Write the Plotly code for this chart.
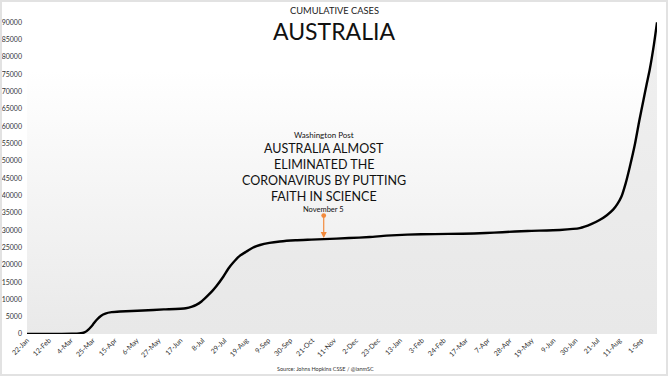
import base64
import plotly.graph_objects as go

# ---- data ----
dates = [
    "2020-01-22", "2020-02-15", "2020-03-05", "2020-03-12", "2020-03-17", "2020-03-21",
    "2020-03-25", "2020-03-29", "2020-04-02", "2020-04-06", "2020-04-12", "2020-04-20",
    "2020-05-12", "2020-06-01", "2020-06-22", "2020-06-28", "2020-07-02", "2020-07-07",
    "2020-07-12", "2020-07-17", "2020-07-21", "2020-07-28", "2020-08-02", "2020-08-06",
    "2020-08-12", "2020-08-19", "2020-08-25", "2020-09-01", "2020-09-10", "2020-09-20",
    "2020-10-05", "2020-10-20", "2020-11-01", "2020-11-25", "2020-12-15", "2020-12-31",
    "2021-01-20", "2021-02-15", "2021-03-14", "2021-04-05", "2021-04-21", "2021-05-15",
    "2021-06-15", "2021-07-04", "2021-07-15", "2021-07-23", "2021-07-30", "2021-08-05",
    "2021-08-09", "2021-08-13", "2021-08-17", "2021-08-21", "2021-08-26", "2021-08-30",
    "2021-09-03", "2021-09-06", "2021-09-09", "2021-09-13", "2021-09-16",
]
cases = [
    0, 15, 60, 150, 450, 1350,
    2700, 4200, 5300, 5900, 6300, 6500,
    6800, 7100, 7450, 7900, 8400, 9400,
    10800, 12300, 13700, 16600, 19000, 20500,
    22400, 23800, 24900, 25700, 26300, 26700,
    27050, 27250, 27400, 27700, 28000, 28400,
    28700, 28850, 28950, 29150, 29400, 29750,
    30050, 30550, 31700, 32900, 34300, 35900,
    37500, 39700, 43500, 48300, 55000, 61500,
    67500, 72000, 76300, 83500, 90000,
]
y_ticks = [0, 5000, 10000, 15000, 20000, 25000, 30000, 35000, 40000, 45000,
           50000, 55000, 60000, 65000, 70000, 75000, 80000, 85000, 90000]
x_ticks = [
    "2020-01-22", "2020-02-12", "2020-03-04", "2020-03-25", "2020-04-15", "2020-05-06",
    "2020-05-27", "2020-06-17", "2020-07-08", "2020-07-29", "2020-08-19", "2020-09-09",
    "2020-09-30", "2020-10-21", "2020-11-11", "2020-12-02", "2020-12-23", "2021-01-13",
    "2021-02-03", "2021-02-24", "2021-03-17", "2021-04-07", "2021-04-28", "2021-05-19",
    "2021-06-09", "2021-06-30", "2021-07-21", "2021-08-11", "2021-09-01",
]
x_tick_labels = [
    "22-Jan", "12-Feb", "4-Mar", "25-Mar", "15-Apr", "6-May", "27-May", "17-Jun",
    "8-Jul", "29-Jul", "19-Aug", "9-Sep", "30-Sep", "21-Oct", "11-Nov", "2-Dec",
    "23-Dec", "13-Jan", "3-Feb", "24-Feb", "17-Mar", "7-Apr", "28-Apr", "19-May",
    "9-Jun", "30-Jun", "21-Jul", "11-Aug", "1-Sep",
]
# position of the arrow as drawn in the picture (labelled "November 5")
event_date = "2020-11-01"
event_value = 27400
headline_lines = ["AUSTRALIA ALMOST", "ELIMINATED THE", "CORONAVIRUS BY PUTTING", "FAITH IN SCIENCE"]

FONT = "Lato"
TXT = "#222222"

fig = go.Figure()
fig.add_trace(go.Scatter(
    x=dates, y=cases, mode="lines",
    line=dict(color="black", width=2.4, shape="spline", smoothing=0.6),
    fill="tozeroy",
    fillgradient=dict(type="vertical",
                      colorscale=[[0, "#e8e8e8"], [1, "#f0f0f0"]]),
    hoverinfo="skip", showlegend=False,
))

# background gradient of the plot area
svg = ('<svg xmlns="http://www.w3.org/2000/svg" width="10" height="100" '
       'preserveAspectRatio="none"><defs><linearGradient id="g" x1="0" y1="0" x2="0" y2="1">'
       '<stop offset="0" stop-color="#ffffff"/><stop offset="0.2" stop-color="#ffffff"/>'
       '<stop offset="1" stop-color="#e9e9e9"/></linearGradient></defs>'
       '<rect width="10" height="100" fill="url(#g)"/></svg>')
src = "data:image/svg+xml;base64," + base64.b64encode(svg.encode()).decode()

L, R, T, B = 27, 11, 5, 42
W, H = 668, 376
pw, ph = W - L - R, H - T - B


def px_x(p):
    return (p - L) / pw


def px_y(p):
    return (H - B - p) / ph


annotations = [
    dict(text="CUMULATIVE CASES", x=px_x(334), y=px_y(11), font=dict(size=9.3, color=TXT)),
    dict(text="AUSTRALIA", x=px_x(334), y=px_y(30.5), font=dict(size=23, color="#111111")),
    dict(text="Source: Johns Hopkins CSSE / @ianmSC", x=px_x(325), y=px_y(369),
         font=dict(size=5.5, color="#333333")),
]
for a in annotations:
    a.update(xref="paper", yref="paper", showarrow=False, xanchor="center", yanchor="middle")

text_y = [149, 164.5, 180.5, 196.5]
for line, yy in zip(headline_lines, text_y):
    annotations.append(dict(text=line, xref="x", yref="paper", x=event_date, y=px_y(yy),
                            showarrow=False, xanchor="center", yanchor="middle",
                            font=dict(size=12.5, color="#111111")))
annotations.append(dict(text="Washington Post", xref="x", yref="paper", x=event_date,
                        y=px_y(135), showarrow=False, xanchor="center", yanchor="middle",
                        font=dict(size=8, color="#111111")))
annotations.append(dict(text="November 5", xref="x", yref="paper", x=event_date,
                        y=px_y(209.5), showarrow=False, xanchor="center", yanchor="middle",
                        font=dict(size=7.5, color="#111111")))
annotations.append(dict(text="", xref="x", yref="y", x=event_date, y=event_value,
                        showarrow=True, ax=0, ay=-25, arrowcolor="#f28a3c",
                        arrowwidth=1.2, arrowhead=2, arrowsize=1,
                        arrowside="end+start", startarrowhead=6, startarrowsize=1,
                        standoff=1))

fig.update_layout(
    width=W, height=H,
    margin=dict(l=L, r=R, t=T, b=B, pad=0, autoexpand=False),
    paper_bgcolor="white", plot_bgcolor="rgba(0,0,0,0)",
    font=dict(family=FONT, color=TXT),
    images=[dict(source=src, xref="paper", yref="paper", x=0, y=1, sizex=1, sizey=1,
                 xanchor="left", yanchor="top", sizing="stretch", layer="below")],
    annotations=annotations,
    shapes=[dict(type="rect", xref="paper", yref="paper",
                 x0=px_x(1), x1=px_x(667), y0=px_y(375), y1=px_y(1),
                 line=dict(color="#e2e2e2", width=2), fillcolor="rgba(0,0,0,0)")],
    xaxis=dict(type="date", range=["2020-01-22", "2021-09-16"], automargin=False,
               tickvals=x_ticks, ticktext=x_tick_labels, tickangle=-45,
               showgrid=False, zeroline=False, showline=False, ticks="",
               tickfont=dict(size=7, color="#333333")),
    yaxis=dict(range=[0, 95000], tickvals=y_ticks, ticktext=[str(v) for v in y_ticks],
               automargin=False,
               showgrid=False, zeroline=False, showline=False, ticks="",
               tickfont=dict(size=7, color="#333333"), ticklabelstandoff=4),
)

fig.write_html("out.html", config={"displayModeBar": False},
               post_script="document.body.style.margin='0';")
